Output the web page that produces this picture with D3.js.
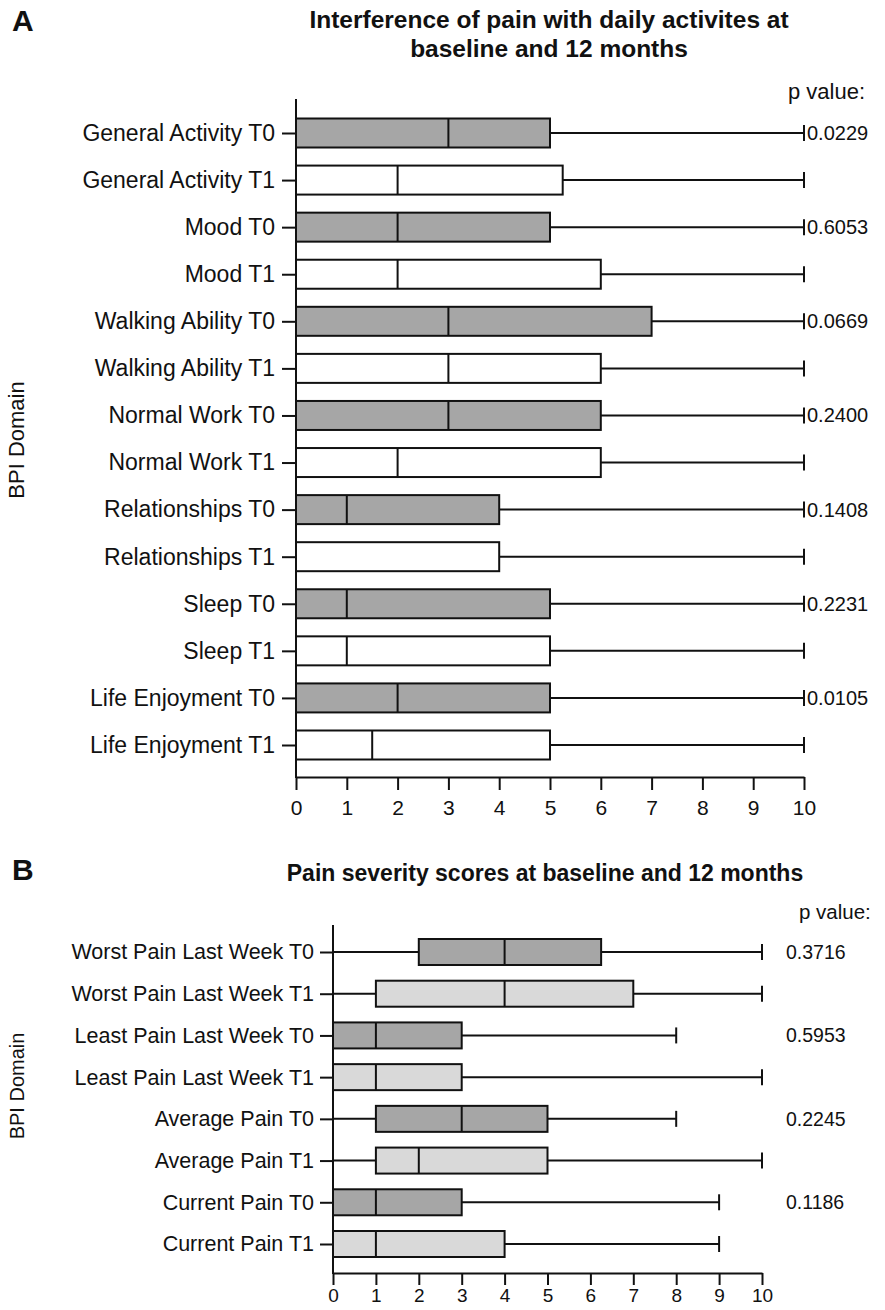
<!DOCTYPE html>
<html>
<head>
<meta charset="utf-8">
<script src="https://cdn.jsdelivr.net/npm/d3@7"></script>
<style>
  body { margin: 0; background: #fff; }
  text { font-family: 'Liberation Sans', Arial, sans-serif; fill: #111; }
</style>
</head>
<body>
<div id="chart"></div>
<script>
// Panel A: interference of pain
const aLabels = [
  'General Activity T0', 'General Activity T1', 'Mood T0', 'Mood T1',
  'Walking Ability T0', 'Walking Ability T1', 'Normal Work T0', 'Normal Work T1',
  'Relationships T0', 'Relationships T1', 'Sleep T0', 'Sleep T1',
  'Life Enjoyment T0', 'Life Enjoyment T1'
];
const aMin = [0, 0, 0, 0, 0, 0, 0, 0, 0, 0, 0, 0, 0, 0];
const aQ1 = [0, 0, 0, 0, 0, 0, 0, 0, 0, 0, 0, 0, 0, 0];
const aMedian = [3, 2, 2, 2, 3, 3, 3, 2, 1, 0, 1, 1, 2, 1.5];
const aQ3 = [5, 5.25, 5, 6, 7, 6, 6, 6, 4, 4, 5, 5, 5, 5];
const aMax = [10, 10, 10, 10, 10, 10, 10, 10, 10, 10, 10, 10, 10, 10];
const aPValues = ['0.0229', '', '0.6053', '', '0.0669', '', '0.2400', '', '0.1408', '', '0.2231', '', '0.0105', ''];

// Panel B: pain severity
const bLabels = [
  'Worst Pain Last Week T0', 'Worst Pain Last Week T1',
  'Least Pain Last Week T0', 'Least Pain Last Week T1',
  'Average Pain T0', 'Average Pain T1', 'Current Pain T0', 'Current Pain T1'
];
const bMin = [0, 0, 0, 0, 0, 0, 0, 0];
const bQ1 = [2, 1, 0, 0, 1, 1, 0, 0];
const bMedian = [4, 4, 1, 1, 3, 2, 1, 1];
const bQ3 = [6.25, 7, 3, 3, 5, 5, 3, 4];
const bMax = [10, 10, 8, 10, 8, 10, 9, 9];
const bPValues = ['0.3716', '', '0.5953', '', '0.2245', '', '0.1186', ''];

const xTicks = [0, 1, 2, 3, 4, 5, 6, 7, 8, 9, 10];

const svg = d3.select('#chart').append('svg')
  .attr('width', 885)
  .attr('height', 1310);

const drawPanel = (o) => {
  const x = d3.scaleLinear().domain([0, 10]).range([o.x0, o.x1]);
  const y = d3.scalePoint().domain(o.labels).range([o.rowTop, o.rowBottom]);
  const g = svg.append('g');

  // x axis
  const xAxis = g.append('g')
    .attr('transform', `translate(0,${o.axisBottom})`)
    .call(d3.axisBottom(x).tickValues(xTicks).tickFormat(d3.format('d'))
      .tickSize(o.xTickLen).tickSizeOuter(0).tickPadding(o.xPad));
  xAxis.select('.domain').attr('stroke', '#111').attr('stroke-width', 2);
  xAxis.selectAll('.tick line').attr('stroke', '#111').attr('stroke-width', 2);
  xAxis.selectAll('.tick text')
    .attr('font-size', o.xFont)
    .attr('font-family', null)
    .attr('fill', '#111');

  // y axis
  const yAxis = g.append('g')
    .attr('transform', `translate(${o.x0},0)`)
    .call(d3.axisLeft(y).tickSize(o.tickLen).tickPadding(o.yPad));
  yAxis.select('.domain').remove();
  yAxis.selectAll('.tick line').attr('stroke', '#111').attr('stroke-width', 2);
  yAxis.selectAll('.tick text')
    .attr('font-size', o.yFont)
    .attr('font-family', null)
    .attr('fill', '#111');
  g.append('line')
    .attr('x1', o.x0).attr('x2', o.x0)
    .attr('y1', o.axisTop).attr('y2', o.axisBottom + 1)
    .attr('stroke', '#111')
    .attr('stroke-width', 2);

  const rows = g.selectAll('.box')
    .data(o.labels.map((label, i) => ({
      label, i,
      min: o.min[i], q1: o.q1[i], med: o.median[i], q3: o.q3[i], max: o.max[i],
      p: o.pValues[i]
    })))
    .join('g')
    .attr('class', 'box')
    .attr('transform', (d) => `translate(0,${y(d.label)})`);

  const h = o.boxH;

  // whiskers
  rows.filter((d) => d.q1 > d.min)
    .append('line')
    .attr('x1', (d) => x(d.min)).attr('x2', (d) => x(d.q1))
    .attr('stroke', '#111').attr('stroke-width', 2);
  rows.append('line')
    .attr('x1', (d) => x(d.q3)).attr('x2', (d) => x(d.max))
    .attr('stroke', '#111').attr('stroke-width', 2);
  rows.append('line')
    .attr('x1', (d) => x(d.max)).attr('x2', (d) => x(d.max))
    .attr('y1', -o.capH).attr('y2', o.capH)
    .attr('stroke', '#111').attr('stroke-width', 2);

  // box
  rows.append('rect')
    .attr('x', (d) => x(d.q1))
    .attr('y', -h / 2)
    .attr('width', (d) => x(d.q3) - x(d.q1))
    .attr('height', h)
    .attr('fill', (d) => (d.i % 2 === 0 ? o.fillT0 : o.fillT1))
    .attr('stroke', '#111')
    .attr('stroke-width', 2);

  // median
  rows.append('line')
    .attr('x1', (d) => x(d.med)).attr('x2', (d) => x(d.med))
    .attr('y1', -h / 2).attr('y2', h / 2)
    .attr('stroke', '#111').attr('stroke-width', 2);

  // p values
  rows.filter((d) => d.p !== '')
    .append('text')
    .attr('x', o.pX)
    .attr('dy', '0.35em')
    .attr('font-size', o.pFont)
    .text((d) => d.p);

  g.append('text')
    .attr('x', o.pHeadX)
    .attr('y', o.pHeadY)
    .attr('font-size', o.pHeadFont)
    .text('p value:');

  // y axis title
  g.append('text')
    .attr('transform', `translate(${o.yTitleX},${o.yTitleY}) rotate(-90)`)
    .attr('text-anchor', 'middle')
    .attr('font-size', o.yTitleFont)
    .text('BPI Domain');

  // panel letter
  g.append('text')
    .attr('x', 12)
    .attr('y', o.letterY)
    .attr('font-size', 30)
    .attr('font-weight', 'bold')
    .text(o.letter);

  // chart title
  o.title.forEach((line, k) => {
    g.append('text')
      .attr('x', o.titleX)
      .attr('y', o.titleY + k * o.titleGap)
      .attr('text-anchor', 'middle')
      .attr('font-size', o.titleFont)
      .attr('font-weight', 'bold')
      .text(line);
  });
};

drawPanel({
  letter: 'A', letterY: 31,
  title: ['Interference of pain with daily activites at', 'baseline and 12 months'],
  titleX: 549, titleY: 28, titleGap: 29, titleFont: 24.5,
  labels: aLabels, min: aMin, q1: aQ1, median: aMedian, q3: aQ3, max: aMax, pValues: aPValues,
  x0: 296, x1: 804, rowTop: 133, rowBottom: 745, axisTop: 99, axisBottom: 777,
  tickLen: 14, xTickLen: 13, xPad: 10, yPad: 7, xFont: 21, yFont: 23, boxH: 29, capH: 8,
  fillT0: '#a6a6a6', fillT1: '#ffffff',
  pX: 807, pFont: 20, pHeadX: 788, pHeadY: 99, pHeadFont: 22,
  yTitleX: 24, yTitleY: 440, yTitleFont: 22
});

drawPanel({
  letter: 'B', letterY: 880,
  title: ['Pain severity scores at baseline and 12 months'],
  titleX: 545, titleY: 881, titleGap: 0, titleFont: 23,
  labels: bLabels, min: bMin, q1: bQ1, median: bMedian, q3: bQ3, max: bMax, pValues: bPValues,
  x0: 333, x1: 762, rowTop: 952, rowBottom: 1244, axisTop: 925, axisBottom: 1273,
  tickLen: 13, xTickLen: 12, xPad: 4, yPad: 6, xFont: 19, yFont: 21.5, boxH: 26, capH: 8,
  fillT0: '#a6a6a6', fillT1: '#d9d9d9',
  pX: 786, pFont: 19.5, pHeadX: 799, pHeadY: 919, pHeadFont: 20.5,
  yTitleX: 24, yTitleY: 1086, yTitleFont: 20
});
</script>
</body>
</html>
